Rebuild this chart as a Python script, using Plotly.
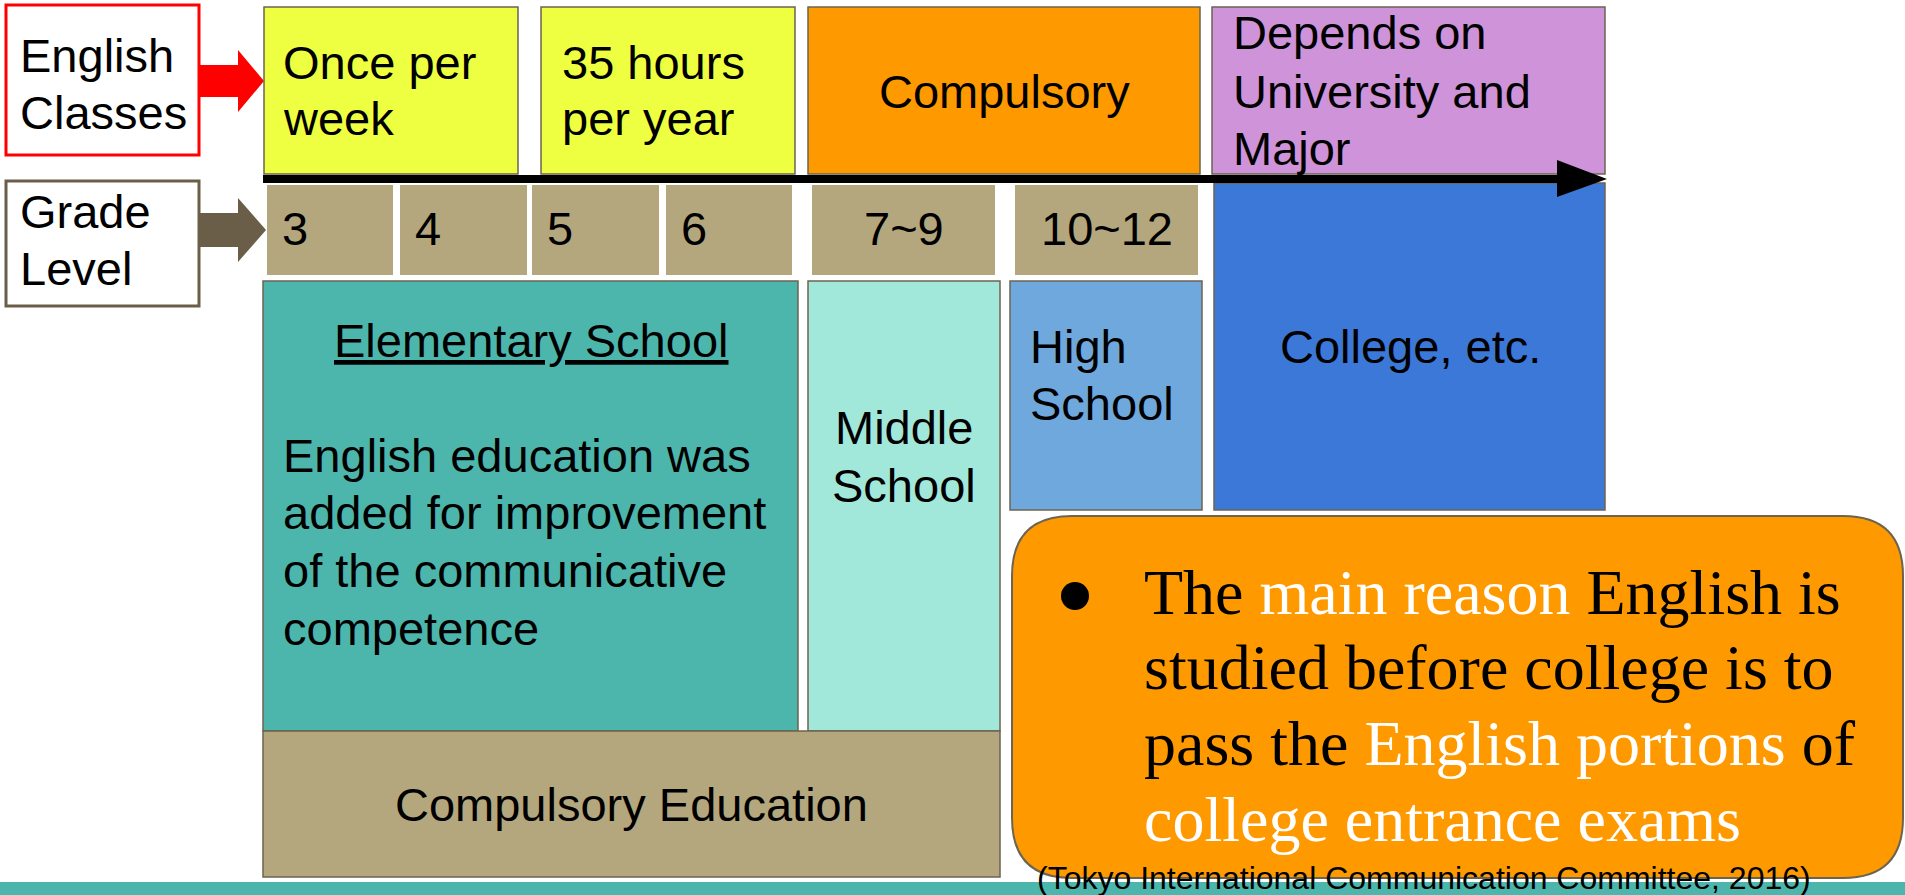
import plotly.graph_objects as go

W, H = 1905, 895

# ---------------- content ----------------
row_titles = [["English", "Classes"], ["Grade", "Level"]]
class_labels = [["Once per", "week"], ["35 hours", "per year"], ["Compulsory"],
                ["Depends on", "University and", "Major"]]
class_colors = ["#eeff41", "#eeff41", "#ff9900", "#ce93d8"]
grade_labels = ["3", "4", "5", "6", "7~9", "10~12"]
elem_title = "Elementary School"
elem_body = ["English education was", "added for improvement",
             "of the communicative", "competence"]
middle_label = ["Middle", "School"]
high_label = ["High", "School"]
college_label = "College, etc."
compulsory_label = "Compulsory Education"
reason_lines = [
    [("The ", "black"), ("main reason ", "white"), ("English is", "black")],
    [("studied before college is to", "black")],
    [("pass the ", "black"), ("English portions ", "white"), ("of", "black")],
    [("college entrance exams", "white")],
]
citation = "(Tokyo International Communication Committee, 2016)"

# ---------------- styles ----------------
BORDER = "#6b6450"
TAN = "#b4a77d"
SANS = "Liberation Sans, Arial, sans-serif"
SERIF = "Liberation Serif, Times New Roman, serif"
FS = 47

shapes = []
annots = []


def rect(x0, x1, y0, y1, fill, line=BORDER, lw=1.5):
    shapes.append(dict(type="rect", x0=x0, x1=x1, y0=y0, y1=y1,
                       fillcolor=fill, line=dict(color=line, width=lw),
                       xref="x", yref="y", layer="below"))


def poly(pts, fill):
    p = "M " + " L ".join(f"{a},{b}" for a, b in pts) + " Z"
    shapes.append(dict(type="path", path=p, fillcolor=fill,
                       line=dict(width=0), xref="x", yref="y", layer="below"))


def text(x, y, s, anchor="left", size=FS, family=SANS, color="black"):
    annots.append(dict(x=x, y=y, text=s, xref="x", yref="y", showarrow=False,
                       xanchor=anchor, yanchor="middle", borderpad=0, borderwidth=0,
                       font=dict(family=family, size=size, color=color)))


# bottom teal band
rect(0, W, 882, H, "#4db6ac", line="#4db6ac", lw=0)

# row title boxes and arrows
rect(6, 199, 5, 155, "white", line="#ff0000", lw=3)
rect(6, 199, 181, 306, "white", line="#6b5e48", lw=3)
poly([(199, 65), (238, 65), (238, 50), (264, 81), (238, 112), (238, 97), (199, 97)], "#ff0000")
poly([(199, 213), (238, 213), (238, 198), (266, 230), (238, 262), (238, 247), (199, 247)], "#6b5e48")
for (x, ys), lines in zip([(20, [55, 112]), (20, [211, 268])], row_titles):
    for yy, ln in zip(ys, lines):
        text(x, yy, ln)

# English classes boxes
class_boxes = [(264, 518), (541, 795), (808, 1200), (1212, 1605)]
for (x0, x1), c in zip(class_boxes, class_colors):
    rect(x0, x1, 7, 174, c)
text(283, 62, class_labels[0][0]); text(283, 118, class_labels[0][1])
text(562, 62, class_labels[1][0]); text(562, 118, class_labels[1][1])
text(1004, 91, class_labels[2][0], anchor="center")
for yy, ln in zip([32, 91, 148], class_labels[3]):
    text(1233, yy, ln)

# college box (drawn before the timeline arrow)
rect(1214, 1605, 183, 510, "#3c78d8")

# timeline arrow
poly([(263, 175), (1557, 175), (1557, 160), (1607, 179), (1557, 197), (1557, 183), (263, 183)], "black")

# grade boxes
grade_boxes = [(267, 393), (400, 527), (532, 659), (666, 792), (812, 995), (1015, 1198)]
for i, ((x0, x1), g) in enumerate(zip(grade_boxes, grade_labels)):
    rect(x0, x1, 185, 275, TAN, line=TAN, lw=0)
    if i < 4:
        text(x0 + 15, 228, g)
    else:
        text((x0 + x1) / 2, 228, g, anchor="center")

# school blocks
rect(263, 798, 281, 731, "#4db6ac")
rect(808, 1000, 281, 731, "#a2e8da")
rect(263, 1000, 731, 877, TAN)
rect(1010, 1202, 281, 510, "#6fa8dc")

text(531, 340, f"<u>{elem_title}</u>", anchor="center")
for yy, ln in zip([455, 512, 570, 628], elem_body):
    text(283, yy, ln)
text(904, 427, middle_label[0], anchor="center")
text(904, 485, middle_label[1], anchor="center")
text(1030, 346, high_label[0]); text(1030, 403, high_label[1])
text(1410, 346, college_label, anchor="center")
text(631, 804, compulsory_label, anchor="center")

# rounded orange call-out
x0, x1, y0, y1, r = 1012, 1903, 516, 878, 60
path = (f"M {x0+r},{y0} L {x1-r},{y0} Q {x1},{y0} {x1},{y0+r} "
        f"L {x1},{y1-r} Q {x1},{y1} {x1-r},{y1} L {x0+r},{y1} "
        f"Q {x0},{y1} {x0},{y1-r} L {x0},{y0+r} Q {x0},{y0} {x0+r},{y0} Z")
shapes.append(dict(type="path", path=path, fillcolor="#ff9900",
                   line=dict(color=BORDER, width=2), xref="x", yref="y", layer="below"))
# bullet
shapes.append(dict(type="circle", x0=1061, x1=1089, y0=582, y1=610, fillcolor="black",
                   line=dict(width=0), xref="x", yref="y"))
for yy, parts in zip([592, 667, 743, 819], reason_lines):
    s = "".join(f'<span style="color:{c}">{t}</span>' for t, c in parts)
    text(1144, yy, s, size=64, family=SERIF)

text(1037, 878, citation, size=32)

fig = go.Figure()
fig.update_layout(
    width=W, height=H, margin=dict(l=0, r=0, t=0, b=0),
    paper_bgcolor="white", plot_bgcolor="white",
    xaxis=dict(range=[0, W], visible=False, fixedrange=True),
    yaxis=dict(range=[H, 0], visible=False, fixedrange=True),
    shapes=shapes, annotations=annots, showlegend=False,
)
fig.write_html("out.html", config={"displayModeBar": False},
               post_script="document.body.style.margin='0';document.body.style.overflow='hidden';")
